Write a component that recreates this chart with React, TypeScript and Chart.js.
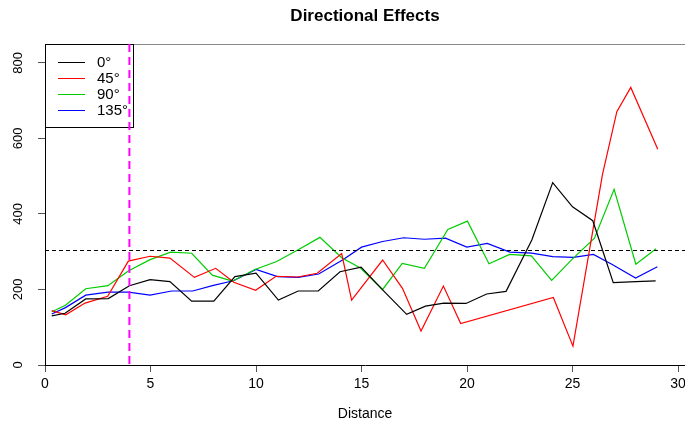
import React, { useEffect, useRef } from 'react';
import { Chart, registerables } from 'chart.js';

Chart.register(...registerables);

const TITLE = 'Directional Effects';
const X_LABEL = 'Distance';
const SERIES_NAMES = ['0°', '45°', '90°', '135°'];
const SERIES_COLORS = ['#000000', '#FF0000', '#00CD00', '#0000FF'];
const X_TICKS = [0, 5, 10, 15, 20, 25, 30];
const Y_TICKS = [0, 200, 400, 600, 800];
const X_MAX = 30.33;
const Y_MAX = 850;
const SILL = 305;
const CUTOFF = 4;

const DIST_0 = [0.32, 0.95, 1.93, 3.0, 4.0, 4.98, 5.92, 6.95, 8.0, 9.0, 10.0, 11.06, 12.0, 12.95, 13.98, 14.98, 16.0, 17.14, 18.03, 18.9, 19.95, 20.93, 21.85, 23.07, 24.06, 25.0, 25.96, 26.93, 28.0, 28.94];
const GAMMA_0 = [130, 137, 175, 176, 210, 226, 221, 169, 169, 234, 243, 172, 196, 196, 247, 259, 199, 134, 156, 164, 163, 188, 195, 331, 483, 419, 382, 218, 221, 223];

const DIST_45 = [0.32, 0.98, 1.9, 2.97, 3.95, 4.98, 5.92, 7.08, 8.09, 8.95, 9.98, 10.95, 11.97, 12.9, 14.06, 14.53, 16.0, 16.94, 17.82, 18.88, 19.7, 24.09, 25.02, 26.42, 27.1, 27.76, 29.04];
const GAMMA_45 = [144, 133, 164, 182, 275, 288, 283, 232, 256, 219, 198, 235, 233, 243, 295, 172, 278, 203, 90, 209, 110, 179, 50, 505, 671, 735, 571];

const DIST_90 = [0.32, 0.97, 1.93, 2.98, 3.95, 4.98, 5.96, 6.95, 7.93, 8.88, 9.95, 10.98, 12.0, 13.03, 14.06, 14.95, 16.0, 16.93, 17.98, 19.09, 20.02, 21.04, 22.02, 23.05, 24.01, 25.0, 26.04, 26.97, 28.0, 28.96];
const GAMMA_90 = [141, 158, 202, 210, 249, 279, 299, 296, 238, 222, 253, 274, 305, 338, 284, 257, 200, 269, 256, 359, 381, 268, 293, 289, 224, 281, 336, 465, 267, 308];

const DIST_135 = [0.32, 0.97, 1.93, 2.98, 3.95, 4.98, 6.0, 7.0, 7.98, 8.93, 10.0, 11.02, 12.0, 12.97, 14.1, 15.0, 16.0, 17.0, 17.98, 18.98, 19.99, 20.96, 22.03, 23.07, 24.06, 25.04, 25.99, 26.86, 27.99, 29.02];
const GAMMA_135 = [135, 152, 185, 193, 193, 185, 196, 196, 211, 223, 253, 234, 232, 241, 278, 312, 327, 337, 333, 336, 312, 322, 299, 296, 287, 285, 293, 267, 230, 260];

const DISTS = [DIST_0, DIST_45, DIST_90, DIST_135];
const GAMMAS = [GAMMA_0, GAMMA_45, GAMMA_90, GAMMA_135];

const FONT = "'Liberation Sans', Arial, Helvetica, sans-serif";

const decorPlugin = {
  id: 'decor',
  afterDatasetsDraw(chart: any) {
    const { ctx, chartArea, scales } = chart;
    const y = scales.y.getPixelForValue(SILL);
    ctx.save();
    ctx.strokeStyle = '#000';
    ctx.lineWidth = 1;
    ctx.setLineDash([4, 3]);
    ctx.beginPath();
    ctx.moveTo(chartArea.left, Math.round(y) + 0.5);
    ctx.lineTo(chartArea.right, Math.round(y) + 0.5);
    ctx.stroke();
    ctx.restore();
  },
  afterDraw(chart: any) {
    const { ctx, chartArea, scales } = chart;
    const xs = scales.x;
    const ys = scales.y;
    ctx.save();
    // top border
    ctx.strokeStyle = '#888';
    ctx.lineWidth = 1;
    ctx.beginPath();
    ctx.moveTo(chartArea.left, chartArea.top + 0.5);
    ctx.lineTo(chartArea.right, chartArea.top + 0.5);
    ctx.stroke();

    const cx = (chartArea.left + chartArea.right) / 2;
    ctx.fillStyle = '#000';
    ctx.textAlign = 'center';
    ctx.textBaseline = 'middle';
    ctx.font = `bold 17px ${FONT}`;
    ctx.fillText(TITLE, cx, 16);

    ctx.font = `14px ${FONT}`;
    X_TICKS.forEach((v) => {
      ctx.fillText(String(v), xs.getPixelForValue(v), 384);
    });
    ctx.fillText(X_LABEL, cx, 414);

    ctx.font = `13px ${FONT}`;
    Y_TICKS.forEach((v) => {
      const py = ys.getPixelForValue(v);
      ctx.save();
      ctx.translate(18, py);
      ctx.rotate(-Math.PI / 2);
      ctx.fillText(String(v), 0, 0);
      ctx.restore();
    });

    // legend
    const lx = chartArea.left;
    const ly = chartArea.top;
    ctx.strokeStyle = '#000';
    ctx.lineWidth = 1;
    ctx.strokeRect(lx + 0.5, ly + 0.5, 88, 83);
    const rows = [62, 78, 94, 110];
    ctx.textAlign = 'left';
    ctx.font = `15px ${FONT}`;
    SERIES_NAMES.forEach((name, i) => {
      ctx.strokeStyle = SERIES_COLORS[i];
      ctx.beginPath();
      ctx.moveTo(58, rows[i] + 0.5);
      ctx.lineTo(85, rows[i] + 0.5);
      ctx.stroke();
      ctx.fillStyle = '#000';
      ctx.fillText(name, 97, rows[i] + 1);
    });

    // cutoff line
    const cxp = xs.getPixelForValue(CUTOFF);
    ctx.strokeStyle = '#FF00FF';
    ctx.lineWidth = 2;
    ctx.setLineDash([8, 5]);
    ctx.beginPath();
    ctx.moveTo(cxp, chartArea.top);
    ctx.lineTo(cxp, chartArea.bottom);
    ctx.stroke();
    ctx.restore();
  },
};

export default function App() {
  const ref = useRef<HTMLCanvasElement>(null);
  useEffect(() => {
    if (!ref.current) return;
    const datasets = SERIES_NAMES.map((name, i) => ({
      label: name,
      data: DISTS[i].map((d, j) => ({ x: d, y: GAMMAS[i][j] })),
      borderColor: SERIES_COLORS[i],
      backgroundColor: SERIES_COLORS[i],
      borderWidth: 1.2,
      pointRadius: 0,
      showLine: true,
      tension: 0,
      fill: false,
    }));
    const chart = new Chart(ref.current, {
      type: 'scatter',
      data: { datasets },
      options: {
        responsive: false,
        animation: false,
        devicePixelRatio: 1,
        layout: { padding: { top: 44, left: 0, right: 0, bottom: 0 } },
        plugins: { legend: { display: false }, title: { display: false }, tooltip: { enabled: false } },
        scales: {
          x: {
            type: 'linear',
            min: 0,
            max: X_MAX,
            afterBuildTicks: (s: any) => {
              s.ticks = X_TICKS.map((v) => ({ value: v }));
            },
            afterFit: (s: any) => {
              s.height = 59;
            },
            grid: { drawOnChartArea: false, drawTicks: true, tickLength: 7, color: '#555' },
            border: { display: true, color: '#000', width: 1 },
            ticks: { display: false },
          },
          y: {
            type: 'linear',
            min: 0,
            max: Y_MAX,
            afterBuildTicks: (s: any) => {
              s.ticks = Y_TICKS.map((v) => ({ value: v }));
            },
            afterFit: (s: any) => {
              s.width = 45;
            },
            grid: { drawOnChartArea: false, drawTicks: true, tickLength: 7, color: '#555' },
            border: { display: true, color: '#000', width: 1 },
            ticks: { display: false },
          },
        },
      },
      plugins: [decorPlugin],
    });
    return () => chart.destroy();
  }, []);
  return (
    <div style={{ position: 'absolute', left: 0, top: 0, width: 685, height: 424, background: '#fff' }}>
      <canvas ref={ref} width={685} height={424} style={{ width: 685, height: 424, display: 'block' }} />
    </div>
  );
}
